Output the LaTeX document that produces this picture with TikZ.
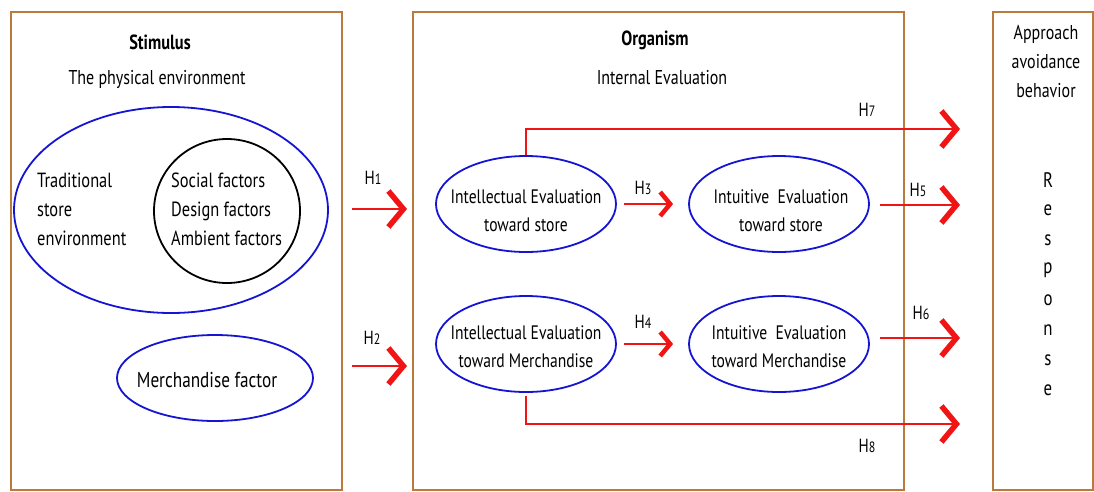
\documentclass[tikz,border=0pt]{standalone}
\usepackage{fontspec}
\setmainfont{PT Sans}[FakeStretch=0.8]
\usetikzlibrary{arrows.meta,shapes.geometric}
\definecolor{boxbrown}{RGB}{185,122,60}
\definecolor{ellblue}{RGB}{20,20,210}
\definecolor{arrred}{RGB}{240,20,20}
\tikzset{
  panel/.style={draw=boxbrown, line width=1.8pt},
  hdr/.style={font=\fontsize{20.5}{22}\selectfont\bfseries},
  sub/.style={font=\fontsize{20}{22}\selectfont},
  txt/.style={font=\fontsize{20.5}{29}\selectfont, align=left, inner sep=0pt},
  ell/.style={ellipse, draw=ellblue, line width=1.8pt, inner sep=0pt},
  elltxt/.style={align=center, inner sep=0pt, font=\fontsize{19.5}{28}\selectfont},
  hyp/.style={draw=arrred, line width=1.6pt,
    -{Straight Barb[length=15pt,width=36pt,line width=5.5pt]}},
  hypsmall/.style={draw=arrred, line width=1.6pt,
    -{Straight Barb[length=10pt,width=24pt,line width=4.5pt]}},
  hlab/.style={font=\fontsize{19}{20}\selectfont, inner sep=0pt},
}
\newcommand{\hh}[1]{H{\fontsize{15}{15}\selectfont #1}}
\begin{document}
\begin{tikzpicture}[x=1pt,y=-1pt]
\useasboundingbox (0,0) rectangle (1094,491);
% panels
\node[panel, rectangle, minimum width=331pt, minimum height=478pt, inner sep=0pt] (boxS) at (176.5,251) {};
\node[panel, rectangle, minimum width=491pt, minimum height=478pt, inner sep=0pt] (boxO) at (658.5,251) {};
\node[panel, rectangle, minimum width=100pt, minimum height=478pt, inner sep=0pt] (boxR) at (1043,251) {};
% stimulus panel
\node[hdr] (stim) at (160,42) {Stimulus};
\node[sub] (phys) at (157,79) {The physical environment};
\node[ell, minimum width=314pt, minimum height=206pt] (envE) at (171,210) {};
\node[ellipse, draw=black, line width=1.8pt, inner sep=0pt, minimum width=146pt, minimum height=144pt] (socC) at (227,211) {};
\node[txt, anchor=west] (trad) at (37,209) {Traditional\\store\\environment};
\node[txt, anchor=west] (soc) at (171,209) {Social factors\\Design factors\\Ambient factors};
\node[ell, minimum width=196pt, minimum height=86pt] (merchE) at (215,378) {};
\node[elltxt, font=\fontsize{21.5}{22}\selectfont] (merchT) at ([xshift=-8pt,yshift=-2pt]merchE.center) {Merchandise factor};
% organism panel
\node[hdr] (org) at (655,40) {Organism};
\node[sub] (intev) at (662,78) {Internal Evaluation};
\node[ell, minimum width=180pt, minimum height=96pt] (ies) at (526,204) {};
\node[ell, minimum width=180pt, minimum height=96pt] (iem) at (526,344) {};
\node[ell, minimum width=180pt, minimum height=96pt] (its) at (779,204) {};
\node[ell, minimum width=180pt, minimum height=96pt] (itm) at (779,344) {};
\node[elltxt] (iesT) at ([yshift=-7pt]ies.center) {Intellectual Evaluation\\toward store};
\node[elltxt] (iemT) at ([yshift=-3pt]iem.center) {Intellectual Evaluation\\toward Merchandise};
\node[elltxt] (itsT) at ([xshift=2pt,yshift=-7pt]its.center) {Intuitive\ \ Evaluation\\toward store};
\node[elltxt] (itmT) at ([yshift=-3pt]itm.center) {Intuitive\ \ Evaluation\\toward Merchandise};
% response panel
\node[sub, align=center, font=\fontsize{20}{29}\selectfont] (appr) at (1046,62) {Approach\\avoidance\\behavior};
\foreach \L [count=\i from 0] in {R,e,s,p,o,n,s,e} {
  \node[inner sep=0pt, font=\fontsize{21}{22}\selectfont] (resp\i) at (1048,{180+30*\i}) {\L};
}
% connector end points
\coordinate (h1s) at (352,209);
\coordinate (h1e) at (407,209);
\coordinate (h2s) at (352,366);
\coordinate (h2e) at (407,366);
\coordinate (h7e) at (960,129);
\coordinate (h5e) at (960,205);
\coordinate (h6e) at (960,338);
\coordinate (h8e) at (960,424);
% hypotheses arrows
\draw[hyp] (h1s) -- (h1e);
\draw[hyp] (h2s) -- (h2e);
\draw[hypsmall] ([xshift=7pt]ies.east) -- ([xshift=-15pt]its.west);
\draw[hypsmall] ([xshift=7pt]iem.east) -- ([xshift=-15pt]itm.west);
\draw[hyp] (ies.north) |- (h7e);
\draw[hyp] ([xshift=10pt]its.east |- h5e) -- (h5e);
\draw[hyp] ([xshift=10pt]itm.east |- h6e) -- (h6e);
\draw[hyp] ([yshift=-3pt]iem.south) |- (h8e);
% labels
\node[hlab] (l1) at (373,178) {\hh{1}};
\node[hlab] (l2) at (372,338) {\hh{2}};
\node[hlab] (l3) at (643,188) {\hh{3}};
\node[hlab] (l4) at (643,322) {\hh{4}};
\node[hlab] (l5) at (918,190) {\hh{5}};
\node[hlab] (l6) at (921,313) {\hh{6}};
\node[hlab] (l7) at (867,110) {\hh{7}};
\node[hlab] (l8) at (867,446) {\hh{8}};
\end{tikzpicture}
\end{document}
